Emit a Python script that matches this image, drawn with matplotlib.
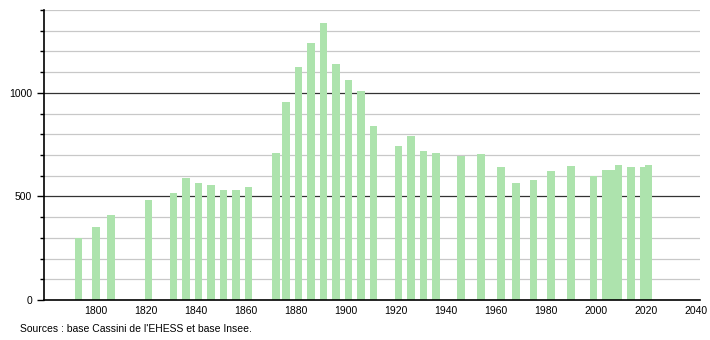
import matplotlib
matplotlib.use("Agg")
import matplotlib.pyplot as plt
import numpy as np

# census years and population
years = [1793, 1800, 1806, 1821, 1831, 1836, 1841, 1846, 1851, 1856, 1861,
         1872, 1876, 1881, 1886, 1891, 1896, 1901, 1906, 1911,
         1921, 1926, 1931, 1936, 1946, 1954, 1962, 1968, 1975, 1982,
         1990, 1999, 2004, 2006, 2009, 2014, 2019, 2021]
population = [298, 353, 410, 484, 519, 590, 566, 556, 532, 532, 545,
              711, 958, 1127, 1243, 1337, 1137, 1064, 1008, 842,
              745, 790, 719, 710, 693, 706, 642, 564, 579, 622,
              648, 600, 629, 626, 653, 642, 642, 653]
xticks = [1800, 1820, 1840, 1860, 1880, 1900, 1920, 1940, 1960, 1980, 2000, 2020, 2040]
source = "Sources : base Cassini de l'EHESS et base Insee."

plt.rcParams['font.family'] = ['Liberation Sans', 'DejaVu Sans']

fig = plt.figure(figsize=(7.1, 3.4), dpi=100)
ax = fig.add_axes([0.062, 0.1176, 0.924, 0.853])

# horizontal grid: light every 100, dark at 500 and 1000
for v in range(100, 1500, 100):
    if v % 500 == 0:
        ax.axhline(v, color='#333333', lw=0.9, zorder=1)
    else:
        ax.axhline(v, color='#c8c8c8', lw=0.9, zorder=1)

ax.bar(years, population, width=3.0, color='#ade3ad', zorder=2)

ax.set_xlim(1779.3, 2041.7)
ax.set_ylim(0, 1400)
ax.set_xticks(xticks)
ax.set_yticks([0, 500, 1000])
ax.set_yticks(np.arange(100, 1500, 100), minor=True)
ax.tick_params(axis='x', length=0, labelsize=7.5, pad=4)
ax.tick_params(axis='y', which='major', length=5, width=1, labelsize=7.5, pad=3.5)
ax.tick_params(axis='y', which='minor', length=3, width=1)

for s in ['top', 'right']:
    ax.spines[s].set_visible(False)
ax.spines['left'].set_linewidth(1.2)
ax.spines['bottom'].set_linewidth(1.2)
ax.spines['bottom'].set_zorder(3)

fig.text(20 / 710, 1 - 329 / 340, source, fontsize=7.5, va='center', ha='left')

fig.savefig("out.png", dpi=100)
